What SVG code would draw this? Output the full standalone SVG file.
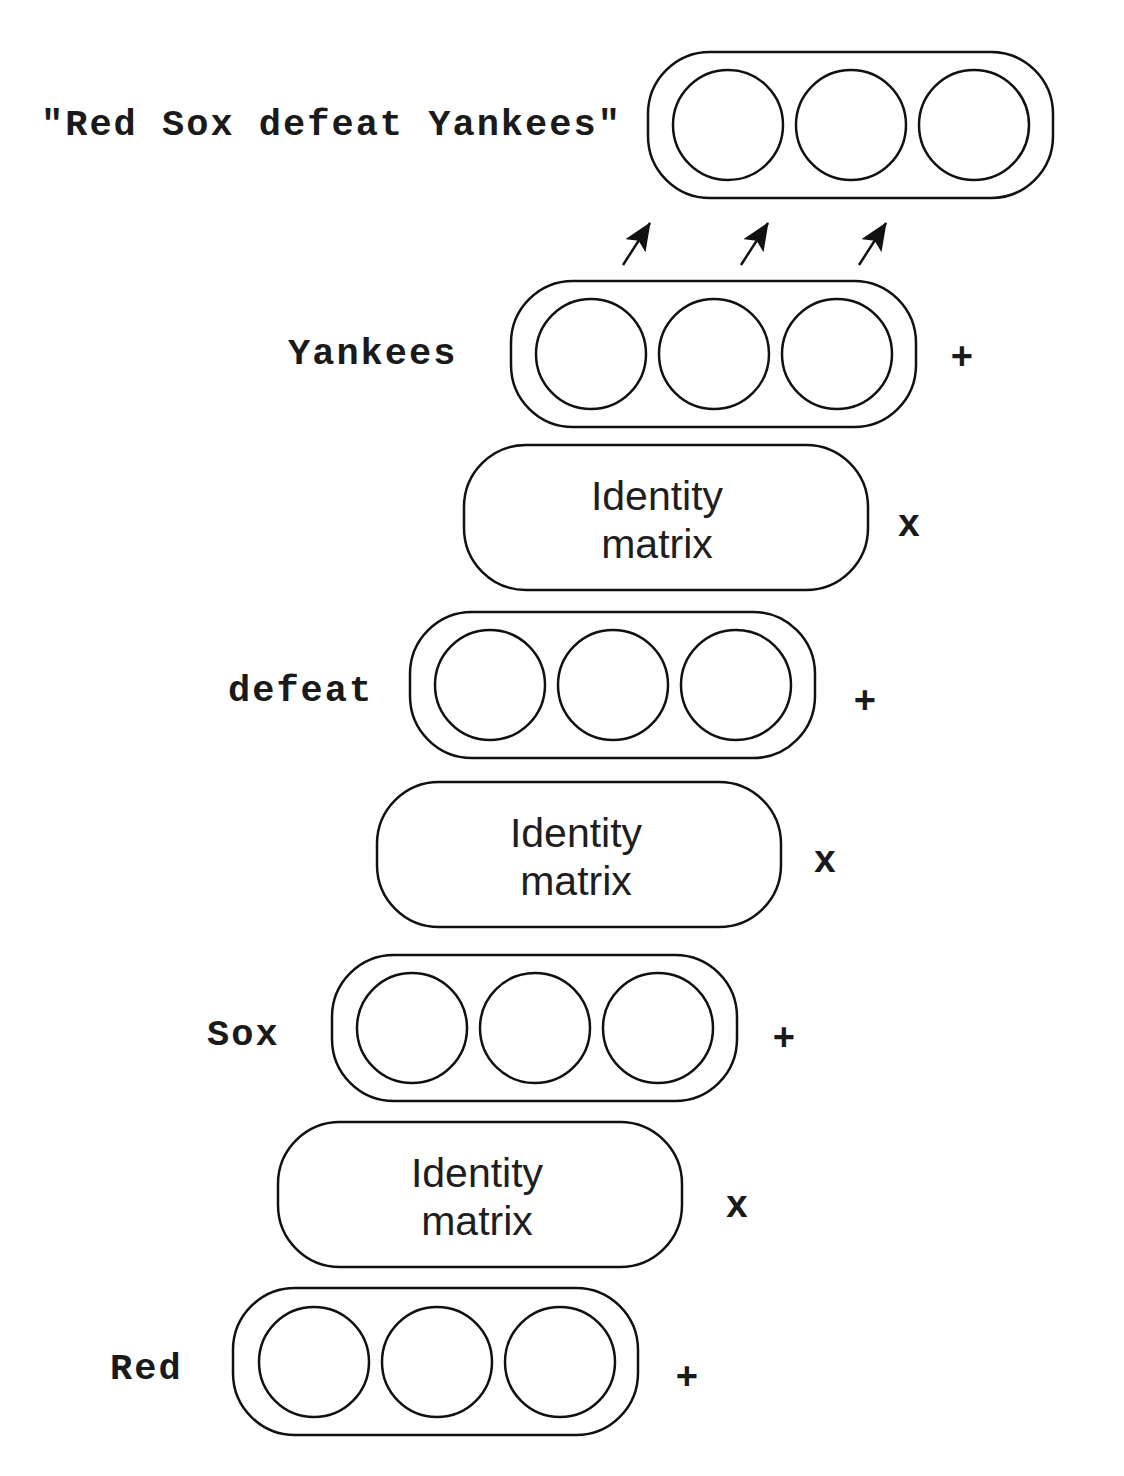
<svg xmlns="http://www.w3.org/2000/svg" width="1124" height="1476" viewBox="0 0 1124 1476">
<style>
.box{fill:#ffffff;stroke:#111;stroke-width:2.5}
.cell{fill:#ffffff;stroke:#111;stroke-width:2.5}
.mono{font-family:"Courier New","Nimbus Mono PS","FreeMono","Liberation Mono",monospace;font-weight:bold;font-size:37px;letter-spacing:2px;fill:#1a1a1a}
.op{font-family:"Courier New","Nimbus Mono PS","FreeMono","Liberation Mono",monospace;font-weight:bold;font-size:38px;fill:#1a1a1a;text-anchor:middle}
.mat{font-family:"Liberation Sans",Arial,sans-serif;font-size:41px;fill:#1e1e1e;text-anchor:middle}
.arr{stroke:#111;stroke-width:2.5;fill:none}
</style>
<defs>
<marker id="head" viewBox="0 0 28 24" refX="27" refY="12" markerWidth="28" markerHeight="24" markerUnits="userSpaceOnUse" orient="auto">
<path d="M0,0 L28,12 L0,24 L6,12 z" fill="#111"/>
</marker>
</defs>
<rect width="1124" height="1476" fill="#ffffff"/>

<g id="sentence">
<text class="mono" x="41" y="135">"Red Sox defeat Yankees"</text>
<rect class="box" x="648" y="52" width="405" height="146" rx="62" ry="62"/>
<circle class="cell" cx="728" cy="125" r="55"/>
<circle class="cell" cx="851" cy="125" r="55"/>
<circle class="cell" cx="974" cy="125" r="55"/>
</g>

<g id="connectors">
<line class="arr" x1="623" y1="265" x2="650" y2="223" marker-end="url(#head)"/>
<line class="arr" x1="741" y1="265" x2="768" y2="223" marker-end="url(#head)"/>
<line class="arr" x1="859" y1="265" x2="886" y2="223" marker-end="url(#head)"/>
</g>

<g id="yankees">
<text class="mono" x="288" y="364">Yankees</text>
<rect class="box" x="511" y="281" width="405" height="146" rx="62" ry="62"/>
<circle class="cell" cx="591" cy="354" r="55"/>
<circle class="cell" cx="714" cy="354" r="55"/>
<circle class="cell" cx="837" cy="354" r="55"/>
<text class="op" x="962" y="369">+</text>
</g>

<g id="identity1">
<rect class="box" x="464" y="445" width="404" height="145" rx="62" ry="62"/>
<text class="mat" x="657" y="510">Identity</text>
<text class="mat" x="657" y="558">matrix</text>
<text class="op" x="909" y="536">x</text>
</g>

<g id="defeat">
<text class="mono" x="228" y="701">defeat</text>
<rect class="box" x="410" y="612" width="405" height="146" rx="62" ry="62"/>
<circle class="cell" cx="490" cy="685" r="55"/>
<circle class="cell" cx="613" cy="685" r="55"/>
<circle class="cell" cx="736" cy="685" r="55"/>
<text class="op" x="865" y="713">+</text>
</g>

<g id="identity2">
<rect class="box" x="377" y="782" width="404" height="145" rx="62" ry="62"/>
<text class="mat" x="576" y="847">Identity</text>
<text class="mat" x="576" y="895">matrix</text>
<text class="op" x="825" y="872">x</text>
</g>

<g id="sox">
<text class="mono" x="207" y="1045">Sox</text>
<rect class="box" x="332" y="955" width="405" height="146" rx="62" ry="62"/>
<circle class="cell" cx="412" cy="1028" r="55"/>
<circle class="cell" cx="535" cy="1028" r="55"/>
<circle class="cell" cx="658" cy="1028" r="55"/>
<text class="op" x="784" y="1050">+</text>
</g>

<g id="identity3">
<rect class="box" x="278" y="1122" width="404" height="145" rx="62" ry="62"/>
<text class="mat" x="477" y="1187">Identity</text>
<text class="mat" x="477" y="1235">matrix</text>
<text class="op" x="737" y="1217">x</text>
</g>

<g id="red">
<text class="mono" x="110" y="1379">Red</text>
<rect class="box" x="233" y="1288" width="405" height="147" rx="62" ry="62"/>
<circle class="cell" cx="314" cy="1362" r="55"/>
<circle class="cell" cx="437" cy="1362" r="55"/>
<circle class="cell" cx="560" cy="1362" r="55"/>
<text class="op" x="687" y="1389">+</text>
</g>
</svg>
